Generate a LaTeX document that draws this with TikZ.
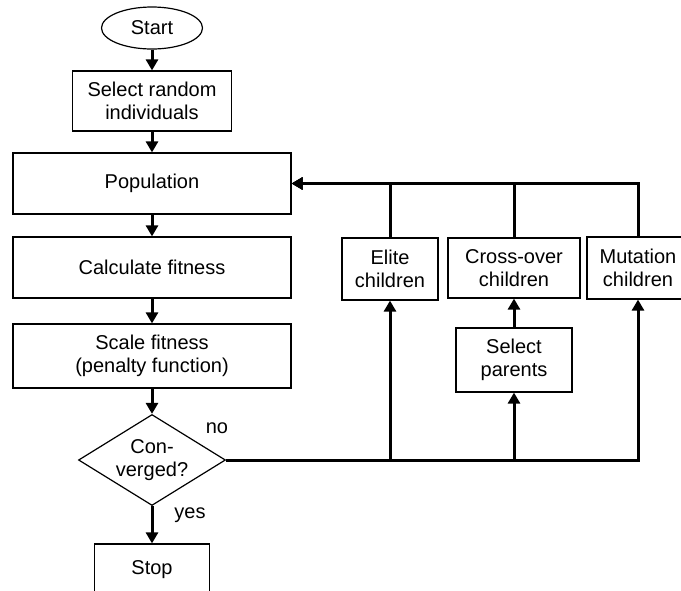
\documentclass[tikz,border=0pt]{standalone}
\usepackage{fontspec}
\setmainfont{Liberation Sans}
\usetikzlibrary{shapes.geometric,arrows.meta}
\begin{document}
\begin{tikzpicture}[x=1pt,y=-1pt,
  every node/.style={font=\fontsize{20}{23.5}\selectfont, align=center, inner sep=0pt},
  box/.style={draw, line width=1.2pt, rectangle},
  oval/.style={draw, line width=1.2pt, ellipse},
  decision/.style={draw, line width=1.2pt, diamond, aspect=1.615},
  conn/.style={line width=3pt, -{Triangle[width=12pt,length=11pt]}}]
\useasboundingbox (0,0) rectangle (681,590);
\node[oval, minimum width=101pt, minimum height=42pt] (start) at (152,28) {Start};
\node[box, minimum width=159pt, minimum height=60pt] (sel) at (152,101) {Select random\\individuals};
\node[box, minimum width=278pt, minimum height=61pt] (pop) at (152,183.5) {Population};
\node[box, minimum width=278pt, minimum height=61pt] (calc) at (152,267.5) {Calculate fitness};
\node[box, minimum width=278pt, minimum height=64pt] (scale) at (152,356) {Scale fitness\\(penalty function)};
\node[decision, minimum width=147pt, minimum height=91pt] (dia) at (152,460) {Con-\\verged?};
\node[box, minimum width=115pt, minimum height=52pt] (stop) at (152,570) {Stop};
\node (no) at (217,428) {no};
\node (yes) at (190,515) {yes};
\node[box, minimum width=96pt, minimum height=62pt] (elite) at (390,269) {Elite\\children};
\node[box, minimum width=132pt, minimum height=60pt] (cross) at (514,268) {Cross-over\\children};
\node[box, minimum width=102pt, minimum height=62pt] (mut) at (638,268) {Mutation\\children};
\node[box, minimum width=116pt, minimum height=64pt] (par) at (514,360) {Select\\parents};

\draw[conn] (start) -- (sel);
\draw[conn] (sel) -- (pop);
\draw[conn] (pop) -- (calc);
\draw[conn] (calc) -- (scale);
\draw[conn] (scale) -- (dia);
\draw[conn] (dia) -- (stop);
\draw[conn] (par) -- (cross);
\draw[conn] (dia.east) -| (elite.south);
\draw[conn] (dia.east) -| (par.south);
\draw[conn] (dia.east) -| (mut.south);
\draw[conn] (mut.north) |- (pop.east);
\draw[conn] (cross.north) |- (pop.east);
\draw[conn] (elite.north) |- (pop.east);
\end{tikzpicture}
\end{document}
